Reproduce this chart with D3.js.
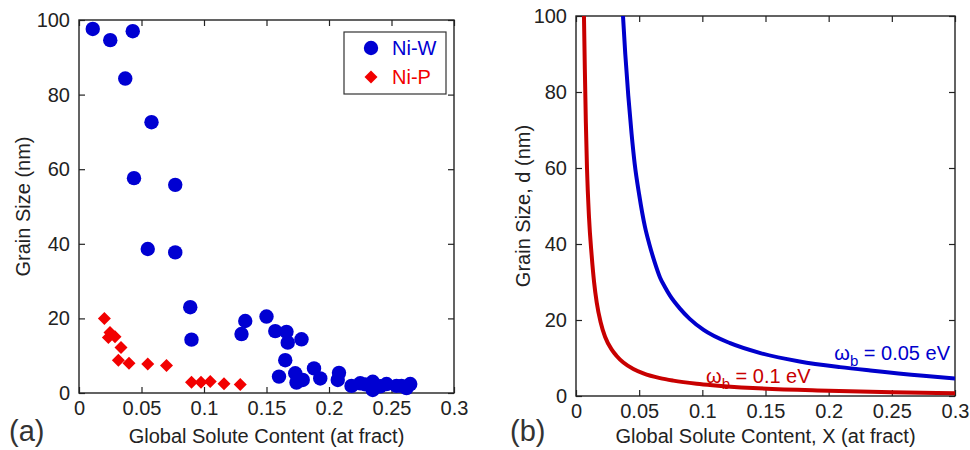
<!DOCTYPE html>
<html>
<head>
<meta charset="utf-8">
<script src="https://cdn.jsdelivr.net/npm/d3@7"></script>
<style>
  body { margin: 0; background: #fff; }
  svg { font-family: "Liberation Sans", Arial, sans-serif; }
</style>
</head>
<body>
<div id="chart"></div>
<script>
// (a) measured grain sizes
const niW_x = [0.011, 0.025, 0.043, 0.037, 0.058, 0.044, 0.077, 0.055, 0.077, 0.089, 0.090,
  0.133, 0.130, 0.150, 0.157, 0.166, 0.167, 0.178, 0.165, 0.160, 0.173, 0.174, 0.179,
  0.188, 0.193, 0.208, 0.207, 0.218, 0.225, 0.229, 0.235, 0.235, 0.241, 0.246, 0.254,
  0.258, 0.262, 0.265];
const niW_y = [97.6, 94.6, 97.0, 84.3, 72.6, 57.6, 55.8, 38.6, 37.7, 23.0, 14.3,
  19.3, 15.8, 20.5, 16.6, 16.4, 13.5, 14.4, 8.8, 4.4, 5.3, 2.8, 3.5,
  6.6, 3.9, 5.4, 3.5, 1.9, 2.6, 2.3, 3.0, 0.8, 1.8, 2.4, 1.9,
  1.9, 1.3, 2.4];

const niP_x = [0.0203, 0.0248, 0.0235, 0.0288, 0.0336, 0.0315, 0.040, 0.055, 0.070,
  0.090, 0.0976, 0.105, 0.116, 0.129];
const niP_y = [20.0, 16.2, 14.9, 15.1, 12.2, 8.8, 8.0, 7.8, 7.4,
  2.9, 2.9, 3.1, 2.5, 2.3];

// (b) model curves
const w005_x = [0.0372, 0.0390, 0.0414, 0.0440, 0.0465, 0.0500, 0.0546, 0.0580, 0.0620,
  0.0665, 0.0705, 0.0744, 0.0823, 0.0900, 0.1010, 0.1220, 0.1460, 0.1770, 0.2090,
  0.2330, 0.2750, 0.3000];
const w005_y = [100, 90, 79, 69, 61, 53, 44.5, 40, 35.5,
  31.2, 28.6, 26.4, 23, 20.3, 17.4, 13.9, 11.3, 9.1, 7.6,
  6.7, 5.3, 4.6];

const w01_x = [0.0063, 0.0070, 0.0078, 0.0087, 0.0103, 0.0124, 0.0143, 0.0164, 0.0195,
  0.0230, 0.0283, 0.0320, 0.0375, 0.0454, 0.0533, 0.0665, 0.0770, 0.0955, 0.1080,
  0.1400, 0.2000, 0.2500, 0.3000];
const w01_y = [100, 86, 72, 60, 47, 37, 30, 24.6, 19.4,
  15.6, 12.2, 10.6, 8.8, 7.1, 5.95, 4.7, 4.05, 3.25, 2.85,
  2.1, 1.4, 1.0, 0.7];

const xTicks = [0, 0.05, 0.1, 0.15, 0.2, 0.25, 0.3];
const yTicks = [0, 20, 40, 60, 80, 100];
const xTickLabels = ["0", "0.05", "0.1", "0.15", "0.2", "0.25", "0.3"];

const width = 970, height = 450;
const ink = "#222";

const svg = d3.select("#chart").append("svg")
  .attr("width", width)
  .attr("height", height);

function makePanel(x0, x1, yBottom, yTop, xLabel, yLabel, yLabelX, tag, tagX) {
  const x = d3.scaleLinear().domain([0, 0.3]).range([x0, x1]);
  const y = d3.scaleLinear().domain([0, 100]).range([yBottom, yTop]);
  const g = svg.append("g");

  const fmt = (d, i) => xTickLabels[i];

  const bottom = g.append("g")
    .attr("transform", `translate(0,${yBottom})`)
    .call(d3.axisBottom(x).tickValues(xTicks).tickFormat(fmt)
      .tickSizeInner(-6).tickSizeOuter(0).tickPadding(8));
  const left = g.append("g")
    .attr("transform", `translate(${x0},0)`)
    .call(d3.axisLeft(y).tickValues(yTicks)
      .tickSizeInner(-6).tickSizeOuter(0).tickPadding(9));
  const top = g.append("g")
    .attr("transform", `translate(0,${yTop})`)
    .call(d3.axisTop(x).tickValues(xTicks).tickFormat("")
      .tickSizeInner(-6).tickSizeOuter(0));
  const right = g.append("g")
    .attr("transform", `translate(${x1},0)`)
    .call(d3.axisRight(y).tickValues(yTicks).tickFormat("")
      .tickSizeInner(-6).tickSizeOuter(0));

  [bottom, left, top, right].forEach(a => {
    a.select(".domain").remove();
    a.selectAll("line").attr("stroke", ink).attr("stroke-width", 1.2);
    a.selectAll("text").attr("fill", ink).attr("font-size", 20)
      .attr("font-family", "Liberation Sans, Arial, sans-serif");
  });

  g.append("rect")
    .attr("x", x0).attr("y", yTop)
    .attr("width", x1 - x0).attr("height", yBottom - yTop)
    .attr("fill", "none").attr("stroke", ink).attr("stroke-width", 1.4);

  g.append("text")
    .attr("x", (x0 + x1) / 2).attr("y", 443)
    .attr("text-anchor", "middle")
    .attr("font-size", 20).attr("fill", ink)
    .text(xLabel);

  g.append("text")
    .attr("transform", `translate(${yLabelX},${(yTop + yBottom) / 2}) rotate(-90)`)
    .attr("text-anchor", "middle")
    .attr("font-size", 20).attr("fill", ink)
    .text(yLabel);

  g.append("text")
    .attr("x", tagX).attr("y", 441)
    .attr("font-size", 29).attr("fill", "#333")
    .text(tag);

  return { g, x, y };
}

// ---- panel (a)
const a = makePanel(79, 454, 393, 20, "Global Solute Content (at fract)", "Grain Size (nm)", 30, "(a)", 9);

const niW = niW_x.map((d, i) => ({ x: d, y: niW_y[i] }));
const niP = niP_x.map((d, i) => ({ x: d, y: niP_y[i] }));

const diamond = d3.symbol().type(d3.symbolSquare).size(85);

a.g.append("g").selectAll("path")
  .data(niP)
  .join("path")
  .attr("d", diamond)
  .attr("transform", d => `translate(${a.x(d.x)},${a.y(d.y)}) rotate(45)`)
  .attr("fill", "#f20000");

a.g.append("g").selectAll("circle")
  .data(niW)
  .join("circle")
  .attr("cx", d => a.x(d.x))
  .attr("cy", d => a.y(d.y))
  .attr("r", 7.2)
  .attr("fill", "#0000d2");

// legend
const leg = a.g.append("g");
leg.append("rect")
  .attr("x", 344).attr("y", 32).attr("width", 102).attr("height", 62)
  .attr("fill", "#fff").attr("stroke", "#333").attr("stroke-width", 1.2);
leg.append("circle").attr("cx", 371).attr("cy", 48).attr("r", 7.2).attr("fill", "#0000d2");
leg.append("path").attr("d", diamond).attr("transform", "translate(371,77) rotate(45)").attr("fill", "#f20000");
leg.append("text").attr("x", 392).attr("y", 55).attr("font-size", 20).attr("fill", "#0000d2").text("Ni-W");
leg.append("text").attr("x", 392).attr("y", 84).attr("font-size", 20).attr("fill", "#f20000").text("Ni-P");

// ---- panel (b)
const b = makePanel(576, 955, 396, 16, "Global Solute Content, X (at fract)", "Grain Size, d (nm)", 530, "(b)", 510);

svg.append("clipPath").attr("id", "clipB")
  .append("rect").attr("x", 576).attr("y", 16).attr("width", 379).attr("height", 380);

const line = d3.line()
  .x(d => b.x(d.x))
  .y(d => b.y(d.y))
  .curve(d3.curveMonotoneX);

const curves = [
  { pts: w01_x.map((d, i) => ({ x: d, y: w01_y[i] })), color: "#c80000" },
  { pts: w005_x.map((d, i) => ({ x: d, y: w005_y[i] })), color: "#0000cc" }
];

b.g.append("g").attr("clip-path", "url(#clipB)")
  .selectAll("path")
  .data(curves)
  .join("path")
  .attr("d", d => line(d.pts))
  .attr("fill", "none")
  .attr("stroke", d => d.color)
  .attr("stroke-width", 4);

function omegaLabel(xPos, yPos, anchor, color, rest) {
  const t = b.g.append("text")
    .attr("x", xPos).attr("y", yPos)
    .attr("text-anchor", anchor)
    .attr("font-size", 20).attr("fill", color);
  t.append("tspan").text("ω");
  t.append("tspan").attr("font-size", 15).attr("dy", 6).text("b");
  t.append("tspan").attr("dy", -6).text(" = " + rest);
}
omegaLabel(950, 360, "end", "#0000cc", "0.05 eV");
omegaLabel(706, 383, "start", "#c80000", "0.1 eV");
</script>
</body>
</html>
